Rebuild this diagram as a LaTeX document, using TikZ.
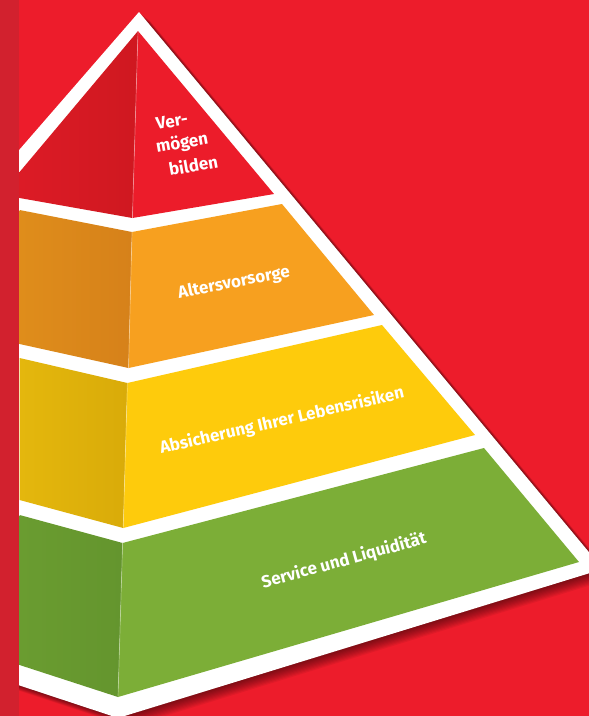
\documentclass[tikz,border=0pt]{standalone}
\usepackage{fontspec}
\setmainfont{Fira Sans}
\definecolor{bg}{HTML}{ED1C2B}
\definecolor{strip}{HTML}{D2212E}
\definecolor{redR}{HTML}{EC1C2A}
\definecolor{redLa}{HTML}{DC1B26}
\definecolor{redLb}{HTML}{CF1820}
\definecolor{oraR}{HTML}{F7A01F}
\definecolor{oraLa}{HTML}{DF8D1B}
\definecolor{oraLb}{HTML}{D6811A}
\definecolor{yelR}{HTML}{FECB0C}
\definecolor{yelLa}{HTML}{E4B70D}
\definecolor{yelLb}{HTML}{D9AB09}
\definecolor{grnR}{HTML}{7CAE37}
\definecolor{grnLa}{HTML}{6A9C30}
\definecolor{grnLb}{HTML}{64952E}
\begin{document}
\begin{tikzpicture}[x=1pt,y=-1pt,
  lbl/.style={text=white,font=\bfseries\fontsize{17}{20}\selectfont,inner sep=0pt},
  ridge/.style={white,opacity=0.35,line width=0.7pt}]
\useasboundingbox (0,0) rectangle (589,716);
\begin{scope}
\clip (0,0) rectangle (589,716);
\fill[bg] (0,0) rectangle (589,716);
% soft shadow
\foreach \i in {1,...,10}{
  \fill[black,opacity=0.055,shift={(\i*1.1,\i*0.9)}]
    (139,12) -- (603,569) -- (118,718) -- (0,679) -- (0,172) -- cycle;
}
% white pyramid
\fill[white] (139,12) -- (603,569) -- (118,718) -- (0,679) -- (0,172) -- cycle;
% red tier
\shade[left color=redLa,right color=redLb] (19.6,172) -- (138,31) -- (132.4,218) -- (19.6,198) -- cycle;
\fill[redR] (138,31) -- (274,194) -- (132.4,218) -- cycle;
\draw[ridge] (138,31) -- (132.4,218);
% orange tier
\shade[left color=oraLa,right color=oraLb] (19.6,210) -- (132,232) -- (128.5,368) -- (19.6,344) -- cycle;
\fill[oraR] (132,232) -- (282,204) -- (374,315) -- (128.5,368) -- cycle;
\draw[ridge] (132,232) -- (128.5,368);
% yellow tier
\shade[left color=yelLa,right color=yelLb] (19.6,358) -- (127.4,383) -- (123.2,528) -- (19.6,500) -- cycle;
\fill[yelR] (127.4,383) -- (382,325) -- (475,435) -- (123.2,528) -- cycle;
\draw[ridge] (127.4,383) -- (123.2,528);
% green tier
\shade[left color=grnLa,right color=grnLb] (19.6,515) -- (122.6,543) -- (118,697) -- (19.6,665) -- cycle;
\fill[grnR] (122.6,543) -- (484,448) -- (579,562) -- (118,697) -- cycle;
\draw[ridge] (122.6,543) -- (118,697);
% left strip
\fill[strip] (0,0) rectangle (19,716);
\end{scope}
% labels
\node[lbl,rotate=10,anchor=base west] (v1) at (157,130) {Ver-};
\node[lbl,rotate=10,anchor=base west] (v2) at (157,153) {mögen};
\node[lbl,rotate=10,anchor=base west] (v3) at (170,176) {bilden};
\node[lbl,rotate=11] (t2) at (234,283) {Altersvorsorge};
\node[lbl,rotate=13] (t3) at (282,421) {Absicherung Ihrer Lebensrisiken};
\node[lbl,rotate=15.5] (t4) at (344,561) {Service und Liquidität};
\end{tikzpicture}
\end{document}
